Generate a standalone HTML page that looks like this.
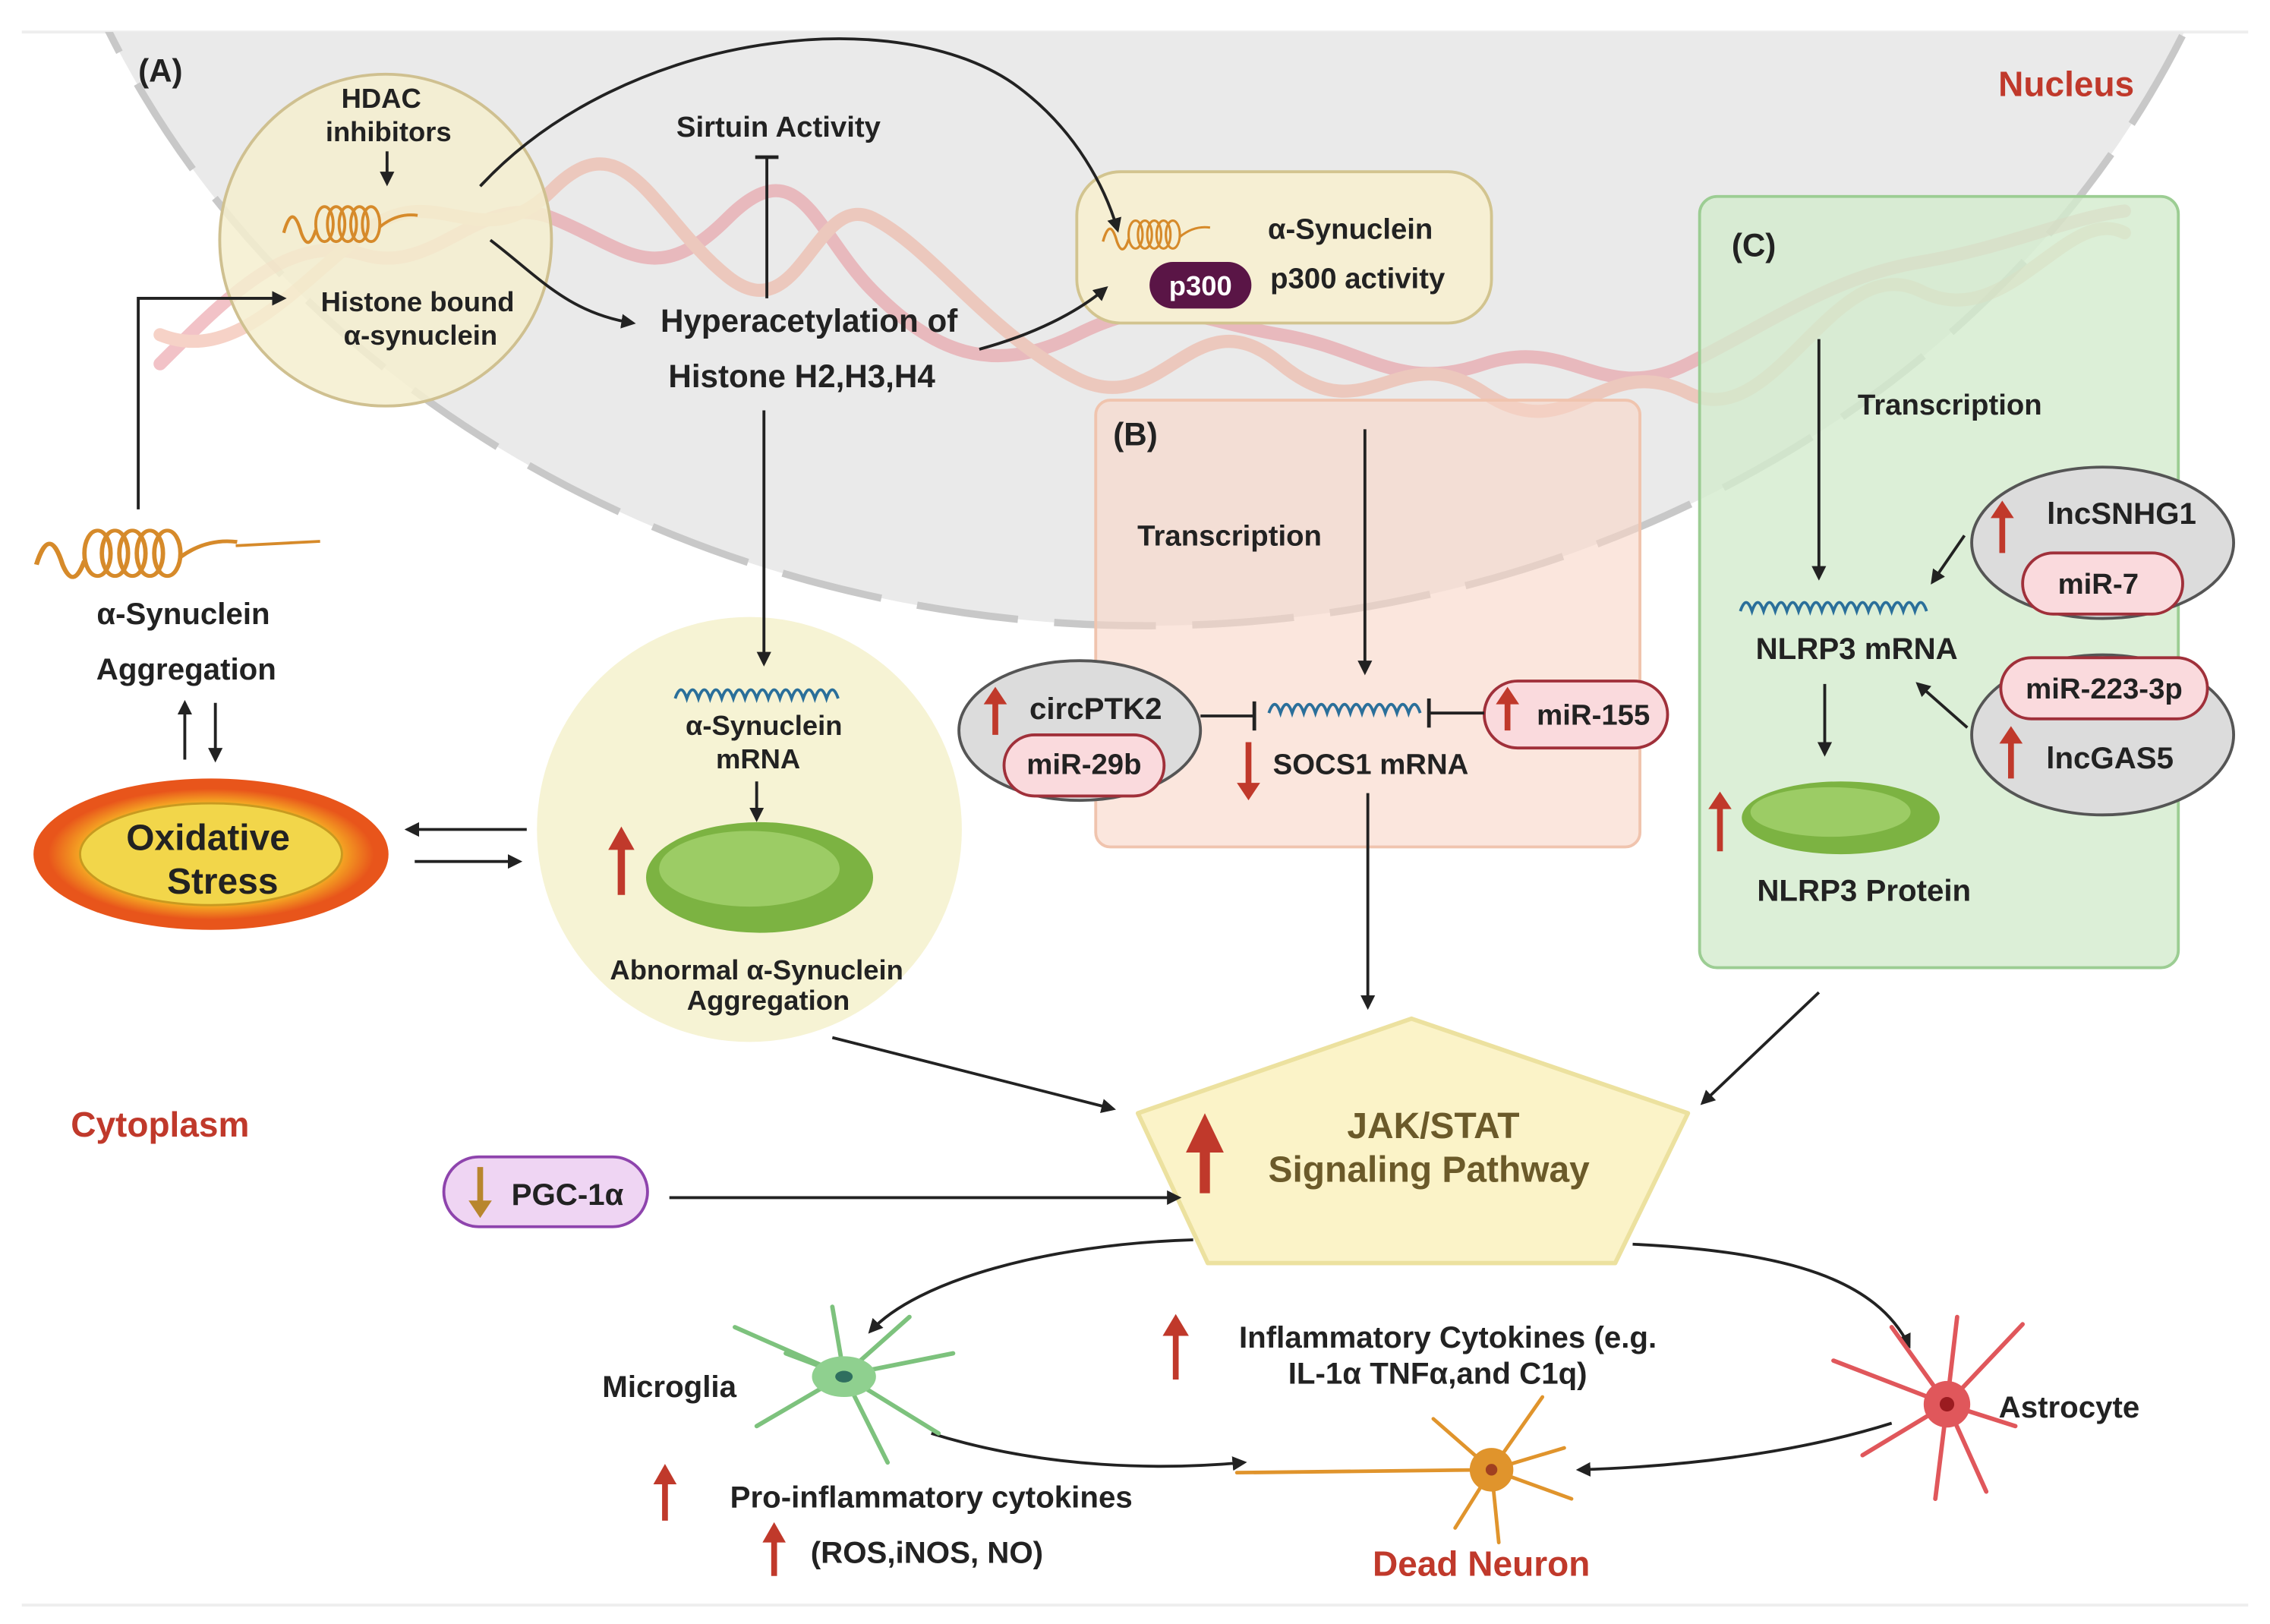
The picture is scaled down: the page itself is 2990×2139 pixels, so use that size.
<!DOCTYPE html>
<html><head><meta charset="utf-8"><style>
html,body{margin:0;padding:0;background:#fff;}
svg{display:block;}
text{font-family:"Liberation Sans",sans-serif;font-weight:bold;}
</style></head><body>
<svg width="2990" height="2139" viewBox="0 0 1560 1116" preserveAspectRatio="none" xmlns="http://www.w3.org/2000/svg">
<defs>
<marker id="ah" markerWidth="10" markerHeight="10" refX="8" refY="5" orient="auto" markerUnits="userSpaceOnUse"><path d="M0,0 L10,5 L0,10 z" fill="#222"/></marker>
<radialGradient id="flame" cx="0.5" cy="0.5" r="0.5"><stop offset="0.5" stop-color="#f5d84a"/><stop offset="0.8" stop-color="#f5a623"/><stop offset="1" stop-color="#e8551b"/></radialGradient>
<clipPath id="top"><rect x="0" y="22" width="1560" height="1100"/></clipPath>
<g id="coil">
<path d="M0,10 q6,-22 12,0 q5,14 10,-2" fill="none" stroke="#d68a2a" stroke-width="2.2"/>
<ellipse cx="28" cy="4" rx="6" ry="12" fill="none" stroke="#d68a2a" stroke-width="2"/>
<ellipse cx="36" cy="4" rx="6" ry="12" fill="none" stroke="#d68a2a" stroke-width="2"/>
<ellipse cx="44" cy="4" rx="6" ry="12" fill="none" stroke="#d68a2a" stroke-width="2"/>
<ellipse cx="52" cy="4" rx="6" ry="12" fill="none" stroke="#d68a2a" stroke-width="2"/>
<ellipse cx="60" cy="4" rx="6" ry="12" fill="none" stroke="#d68a2a" stroke-width="2"/>
<path d="M66,6 q12,-10 26,-8" fill="none" stroke="#d68a2a" stroke-width="2"/>
</g>
</defs>
<rect width="1560" height="1116" fill="#fff"/>
<line x1="15" y1="22" x2="1545" y2="22" stroke="#eee" stroke-width="2"/>
<line x1="15" y1="1103" x2="1545" y2="1103" stroke="#eee" stroke-width="2"/>
<g clip-path="url(#top)">
<ellipse cx="788" cy="-250" rx="778" ry="680" fill="#eaeaea"/>
<ellipse cx="788" cy="-250" rx="778" ry="680" fill="none" stroke="#c8c8c8" stroke-width="5" stroke-dasharray="70,25"/>
</g>
<g fill="none" stroke-width="9" opacity="0.55" stroke-linecap="round">
<path d="M110,250 C160,200 200,160 250,175 S330,130 380,150 S450,200 500,150 S560,160 600,200 S680,260 740,230 S820,220 880,230 S960,270 1020,250 S1100,280 1160,250 S1260,190 1320,180 S1420,150 1460,145" stroke="#e8929a"/>
<path d="M110,230 C160,250 200,200 250,160 S330,180 380,130 S450,150 500,190 S560,130 600,150 S680,230 740,260 S820,200 880,250 S960,230 1020,270 S1100,240 1160,270 S1260,170 1320,200 S1420,140 1460,160" stroke="#efae9a"/>
</g>
<circle cx="265" cy="165" r="114" fill="#f4efcf" fill-opacity="0.85" stroke="#cfc090" stroke-width="2"/>
<text x="95" y="56" font-size="22" fill="#222">(A)</text>
<text x="1420" y="66" font-size="24" fill="#c0392b" text-anchor="middle">Nucleus</text>
<text x="262" y="74" font-size="19" fill="#222" text-anchor="middle">HDAC</text>
<text x="267" y="97" font-size="19" fill="#222" text-anchor="middle">inhibitors</text>
<line x1="266" y1="104" x2="266" y2="126" stroke="#222" stroke-width="2" marker-end="url(#ah)"/>
<use href="#coil" x="195" y="150"/>
<text x="287" y="214" font-size="19" fill="#222" text-anchor="middle">Histone bound</text>
<text x="289" y="237" font-size="19" fill="#222" text-anchor="middle">α-synuclein</text>
<text x="535" y="94" font-size="20" fill="#222" text-anchor="middle">Sirtuin Activity</text>
<line x1="527" y1="108" x2="527" y2="205" stroke="#222" stroke-width="2"/>
<line x1="519" y1="108" x2="535" y2="108" stroke="#222" stroke-width="2.5"/>
<text x="556" y="228" font-size="22" fill="#222" text-anchor="middle">Hyperacetylation of</text>
<text x="551" y="266" font-size="22" fill="#222" text-anchor="middle">Histone H2,H3,H4</text>
<path d="M337,165 C370,190 390,215 435,222" fill="none" stroke="#222" stroke-width="2" marker-end="url(#ah)"/>
<path d="M95,350 L95,205 L195,205" fill="none" stroke="#222" stroke-width="2" marker-end="url(#ah)"/>
<rect x="740" y="118" width="285" height="104" rx="30" fill="#f6efd3" stroke="#d2c48f" stroke-width="2"/>
<use href="#coil" x="758" y="158" transform="translate(758,158) scale(0.8) translate(-758,-158)"/>
<text x="928" y="164" font-size="20" fill="#222" text-anchor="middle">α-Synuclein</text>
<rect x="790" y="180" width="70" height="32" rx="16" fill="#5a1546"/>
<text x="825" y="203" font-size="19" fill="#fff" text-anchor="middle">p300</text>
<text x="933" y="198" font-size="20" fill="#222" text-anchor="middle">p300 activity</text>
<path d="M330,128 C430,20 620,0 700,60 C740,90 760,130 768,158" fill="none" stroke="#222" stroke-width="2" marker-end="url(#ah)"/>
<path d="M673,240 C710,230 740,215 760,198" fill="none" stroke="#222" stroke-width="2" marker-end="url(#ah)"/>
<rect x="753" y="275" width="374" height="307" rx="10" fill="#f9d6c6" fill-opacity="0.6" stroke="#f0c4ae" stroke-width="2"/>
<text x="765" y="306" font-size="22" fill="#222">(B)</text>
<text x="845" y="375" font-size="20" fill="#222" text-anchor="middle">Transcription</text>
<line x1="938" y1="295" x2="938" y2="462" stroke="#222" stroke-width="2" marker-end="url(#ah)"/>
<path d="M872,490 q4,-12 8,0 q4,-12 8,0 q4,-12 8,0 q4,-12 8,0 q4,-12 8,0 q4,-12 8,0 q4,-12 8,0 q4,-12 8,0 q4,-12 8,0 q4,-12 8,0 q4,-12 8,0 q4,-12 8,0 q4,-12 8,0" fill="none" stroke="#2a6f9a" stroke-width="2"/>
<text x="942" y="532" font-size="20" fill="#222" text-anchor="middle">SOCS1 mRNA</text>
<path d="M858,510 L858,545" stroke="#c0392b" stroke-width="4"/><path d="M850,538 L858,550 L866,538 z" fill="#c0392b"/>
<ellipse cx="742" cy="502" rx="83" ry="48" fill="#dcdcdc" stroke="#555" stroke-width="2"/>
<path d="M684,505 L684,478" stroke="#c0392b" stroke-width="4"/><path d="M676,484 L684,472 L692,484 z" fill="#c0392b"/>
<text x="753" y="494" font-size="21" fill="#222" text-anchor="middle">circPTK2</text>
<rect x="690" y="505" width="110" height="42" rx="21" fill="#fadadd" stroke="#a0303a" stroke-width="2"/>
<text x="745" y="532" font-size="20" fill="#222" text-anchor="middle">miR-29b</text>
<line x1="825" y1="492" x2="862" y2="492" stroke="#222" stroke-width="2"/><line x1="862" y1="482" x2="862" y2="502" stroke="#222" stroke-width="2.5"/>
<rect x="1020" y="468" width="126" height="46" rx="23" fill="#fadadd" stroke="#a0303a" stroke-width="2"/>
<path d="M1036,502 L1036,478" stroke="#c0392b" stroke-width="4"/><path d="M1028,484 L1036,472 L1044,484 z" fill="#c0392b"/>
<text x="1095" y="498" font-size="20" fill="#222" text-anchor="middle">miR-155</text>
<line x1="1020" y1="490" x2="982" y2="490" stroke="#222" stroke-width="2"/><line x1="982" y1="480" x2="982" y2="500" stroke="#222" stroke-width="2.5"/>
<line x1="940" y1="545" x2="940" y2="692" stroke="#222" stroke-width="2" marker-end="url(#ah)"/>
<rect x="1168" y="135" width="329" height="530" rx="12" fill="#d3ebcd" fill-opacity="0.8" stroke="#9ccd93" stroke-width="2"/>
<text x="1190" y="176" font-size="22" fill="#222">(C)</text>
<text x="1340" y="285" font-size="20" fill="#222" text-anchor="middle">Transcription</text>
<line x1="1250" y1="233" x2="1250" y2="397" stroke="#222" stroke-width="2" marker-end="url(#ah)"/>
<path d="M1196,420 q4,-12 8,0 q4,-12 8,0 q4,-12 8,0 q4,-12 8,0 q4,-12 8,0 q4,-12 8,0 q4,-12 8,0 q4,-12 8,0 q4,-12 8,0 q4,-12 8,0 q4,-12 8,0 q4,-12 8,0 q4,-12 8,0 q4,-12 8,0 q4,-12 8,0 q4,-12 8,0" fill="none" stroke="#2a6f9a" stroke-width="2"/>
<text x="1276" y="453" font-size="21" fill="#222" text-anchor="middle">NLRP3 mRNA</text>
<line x1="1254" y1="470" x2="1254" y2="518" stroke="#222" stroke-width="2" marker-end="url(#ah)"/>
<ellipse cx="1265" cy="562" rx="68" ry="25" fill="#7cb342"/><ellipse cx="1258" cy="558" rx="55" ry="17" fill="#9ccc65"/>
<path d="M1182,585 L1182,552" stroke="#c0392b" stroke-width="4"/><path d="M1174,556 L1182,544 L1190,556 z" fill="#c0392b"/>
<text x="1281" y="619" font-size="21" fill="#222" text-anchor="middle">NLRP3 Protein</text>
<ellipse cx="1445" cy="373" rx="90" ry="52" fill="#dcdcdc" stroke="#555" stroke-width="2"/>
<path d="M1376,380 L1376,350" stroke="#c0392b" stroke-width="4"/><path d="M1368,356 L1376,344 L1384,356 z" fill="#c0392b"/>
<text x="1458" y="360" font-size="21" fill="#222" text-anchor="middle">lncSNHG1</text>
<rect x="1390" y="380" width="110" height="42" rx="21" fill="#fadadd" stroke="#a0303a" stroke-width="2"/>
<text x="1442" y="408" font-size="20" fill="#222" text-anchor="middle">miR-7</text>
<line x1="1350" y1="368" x2="1328" y2="400" stroke="#222" stroke-width="2" marker-end="url(#ah)"/>
<ellipse cx="1445" cy="505" rx="90" ry="55" fill="#dcdcdc" stroke="#555" stroke-width="2"/>
<rect x="1375" y="452" width="142" height="42" rx="21" fill="#fadadd" stroke="#a0303a" stroke-width="2"/>
<text x="1446" y="480" font-size="20" fill="#222" text-anchor="middle">miR-223-3p</text>
<path d="M1382,535 L1382,505" stroke="#c0392b" stroke-width="4"/><path d="M1374,511 L1382,499 L1390,511 z" fill="#c0392b"/>
<text x="1450" y="528" font-size="21" fill="#222" text-anchor="middle">lncGAS5</text>
<line x1="1352" y1="500" x2="1318" y2="470" stroke="#222" stroke-width="2" marker-end="url(#ah)"/>
<use href="#coil" x="25" y="375" transform="translate(25,375) scale(1.5,1.3) translate(-25,-375)"/>
<line x1="162" y1="375" x2="220" y2="372" stroke="#d68a2a" stroke-width="2"/>
<text x="126" y="429" font-size="21" fill="#222" text-anchor="middle">α-Synuclein</text>
<text x="128" y="467" font-size="21" fill="#222" text-anchor="middle">Aggregation</text>
<line x1="127" y1="522" x2="127" y2="483" stroke="#222" stroke-width="2" marker-end="url(#ah)"/>
<line x1="148" y1="483" x2="148" y2="522" stroke="#222" stroke-width="2" marker-end="url(#ah)"/>
<ellipse cx="145" cy="587" rx="122" ry="52" fill="#e8551b"/>
<ellipse cx="145" cy="587" rx="112" ry="45" fill="url(#flame)"/>
<ellipse cx="145" cy="587" rx="90" ry="35" fill="#f2d64a" stroke="#c89a20" stroke-width="1.5"/>
<text x="143" y="584" font-size="25" fill="#222" text-anchor="middle">Oxidative</text>
<text x="153" y="614" font-size="25" fill="#222" text-anchor="middle">Stress</text>
<line x1="362" y1="570" x2="280" y2="570" stroke="#222" stroke-width="2" marker-end="url(#ah)"/>
<line x1="285" y1="592" x2="357" y2="592" stroke="#222" stroke-width="2" marker-end="url(#ah)"/>
<circle cx="515" cy="570" r="146" fill="#f6f3d4"/>
<line x1="525" y1="282" x2="525" y2="456" stroke="#222" stroke-width="2" marker-end="url(#ah)"/>
<path d="M464,480 q4,-12 8,0 q4,-12 8,0 q4,-12 8,0 q4,-12 8,0 q4,-12 8,0 q4,-12 8,0 q4,-12 8,0 q4,-12 8,0 q4,-12 8,0 q4,-12 8,0 q4,-12 8,0 q4,-12 8,0 q4,-12 8,0 q4,-12 8,0" fill="none" stroke="#2a6f9a" stroke-width="2"/>
<text x="525" y="505" font-size="19" fill="#222" text-anchor="middle">α-Synuclein</text>
<text x="521" y="528" font-size="19" fill="#222" text-anchor="middle">mRNA</text>
<line x1="520" y1="537" x2="520" y2="563" stroke="#222" stroke-width="2" marker-end="url(#ah)"/>
<ellipse cx="522" cy="603" rx="78" ry="38" fill="#7cb342"/><ellipse cx="515" cy="597" rx="62" ry="26" fill="#9ccc65"/>
<path d="M427,615 L427,578" stroke="#c0392b" stroke-width="5"/><path d="M418,584 L427,568 L436,584 z" fill="#c0392b"/>
<text x="520" y="673" font-size="19" fill="#222" text-anchor="middle">Abnormal α-Synuclein</text>
<text x="528" y="694" font-size="19" fill="#222" text-anchor="middle">Aggregation</text>
<line x1="572" y1="713" x2="765" y2="762" stroke="#222" stroke-width="2" marker-end="url(#ah)"/>
<line x1="1250" y1="682" x2="1170" y2="758" stroke="#222" stroke-width="2" marker-end="url(#ah)"/>
<text x="110" y="781" font-size="24" fill="#c0392b" text-anchor="middle">Cytoplasm</text>
<polygon points="782,765 970,700 1160,765 1110,868 830,868" fill="#fbf3c8" stroke="#ece19f" stroke-width="3" stroke-linejoin="round"/>
<path d="M828,820 L828,785" stroke="#c0392b" stroke-width="7"/><path d="M815,792 L828,765 L841,792 z" fill="#c0392b"/>
<text x="985" y="782" font-size="25" fill="#6b5a2a" text-anchor="middle">JAK/STAT</text>
<text x="982" y="812" font-size="25" fill="#6b5a2a" text-anchor="middle">Signaling Pathway</text>
<rect x="305" y="795" width="140" height="48" rx="24" fill="#efd5f3" stroke="#8e44ad" stroke-width="2"/>
<path d="M330,802 L330,828" stroke="#b8862e" stroke-width="4"/><path d="M322,825 L330,837 L338,825 z" fill="#b8862e"/>
<text x="390" y="828" font-size="21" fill="#222" text-anchor="middle">PGC-1α</text>
<line x1="460" y1="823" x2="810" y2="823" stroke="#222" stroke-width="2" marker-end="url(#ah)"/>
<path d="M820,852 C720,855 630,880 598,915" fill="none" stroke="#222" stroke-width="2" marker-end="url(#ah)"/>
<path d="M1122,855 C1230,860 1290,880 1312,925" fill="none" stroke="#222" stroke-width="2" marker-end="url(#ah)"/>
<path d="M640,985 C720,1010 800,1010 855,1005" fill="none" stroke="#222" stroke-width="2" marker-end="url(#ah)"/>
<path d="M1300,978 C1230,1000 1150,1008 1085,1010" fill="none" stroke="#222" stroke-width="2" marker-end="url(#ah)"/>
<text x="460" y="960" font-size="21" fill="#222" text-anchor="middle">Microglia</text>
<g stroke="#7dc27d" stroke-width="3" fill="none" stroke-linecap="round">
<path d="M580,945 L505,912 M580,945 L520,980 M580,945 L625,905 M580,945 L655,930 M580,945 L645,985 M580,945 L610,1005 M580,945 L572,898 M580,945 L540,930"/>
</g>
<ellipse cx="580" cy="946" rx="22" ry="14" fill="#8fd08f"/><ellipse cx="580" cy="946" rx="6" ry="4" fill="#2f6f5f"/>
<path d="M808,948 L808,912" stroke="#c0392b" stroke-width="4"/><path d="M799,918 L808,903 L817,918 z" fill="#c0392b"/>
<text x="995" y="926" font-size="21" fill="#222" text-anchor="middle">Inflammatory Cytokines (e.g.</text>
<text x="988" y="951" font-size="21" fill="#222" text-anchor="middle">IL-1α TNFα,and C1q)</text>
<g stroke="#e0942c" stroke-width="2.5" fill="none" stroke-linecap="round">
<path d="M1025,1010 L850,1012 M1025,1010 L985,975 M1025,1010 L1060,960 M1025,1010 L1080,1030 M1025,1010 L1030,1060 M1025,1010 L1000,1050 M1025,1010 L1075,995"/>
</g>
<circle cx="1025" cy="1010" r="15" fill="#e0942c"/><circle cx="1025" cy="1010" r="4" fill="#a04020"/>
<text x="1018" y="1083" font-size="24" fill="#c0392b" text-anchor="middle">Dead Neuron</text>
<g stroke="#e0575b" stroke-width="3" fill="none" stroke-linecap="round">
<path d="M1338,965 L1260,935 M1338,965 L1280,1000 M1338,965 L1300,912 M1338,965 L1345,905 M1338,965 L1390,910 M1338,965 L1365,1025 M1338,965 L1330,1030 M1338,965 L1385,980"/>
</g>
<circle cx="1338" cy="965" r="16" fill="#e0575b"/><circle cx="1338" cy="965" r="5" fill="#9b1b20"/>
<text x="1422" y="974" font-size="21" fill="#222" text-anchor="middle">Astrocyte</text>
<path d="M457,1045 L457,1015" stroke="#c0392b" stroke-width="4"/><path d="M449,1020 L457,1006 L465,1020 z" fill="#c0392b"/>
<text x="640" y="1036" font-size="21" fill="#222" text-anchor="middle">Pro-inflammatory cytokines</text>
<path d="M532,1083 L532,1055" stroke="#c0392b" stroke-width="4"/><path d="M524,1060 L532,1046 L540,1060 z" fill="#c0392b"/>
<text x="637" y="1074" font-size="21" fill="#222" text-anchor="middle">(ROS,iNOS, NO)</text>
</svg>
</body></html>
